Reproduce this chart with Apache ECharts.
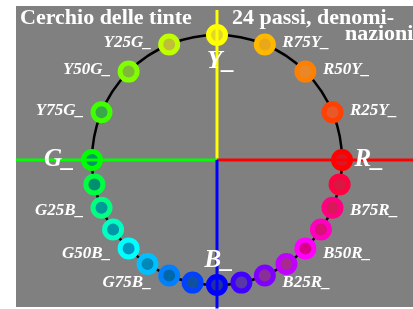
<!DOCTYPE html>
<html>
<head>
    <meta charset="utf-8">
    <script src="https://cdn.jsdelivr.net/npm/echarts@6/dist/echarts.min.js"></script>
</head>
<body style="margin:0">
    <div id="main" style="width:413px;height:309px;"></div>
    <script type="text/javascript">

// 24 hue steps, angle in degrees (0 = R, counter clockwise)
var angles = [90, 112.5, 135, 157.5, 180, 191.25, 202.5, 213.75, 225, 236.25, 247.5, 258.75,
              270, 281.25, 292.5, 303.75, 315, 326.25, 337.5, 348.75, 0, 22.5, 45, 67.5];
var names = ['Y', 'Y25G', 'Y50G', 'Y75G', 'G', '', 'G25B', '', 'G50B', '', 'G75B', '',
             'B', '', 'B25R', '', 'B50R', '', 'B75R', '', 'R', 'R25Y', 'R50Y', 'R75Y'];
var ringColors = ['#ffff00', '#c0ff00', '#80ff00', '#40ff00', '#00ff00', '#00ff40', '#00ff80', '#00ffc0',
                  '#00ffff', '#00c0ff', '#0080ff', '#0040ff', '#0000ff', '#4000ff', '#8000ff', '#c000ff',
                  '#ff00ff', '#ff00c0', '#ff0080', '#ff0040', '#ff0000', '#ff4000', '#ff8000', '#ffb800'];
var fillColors = ['#e0d828', '#c0c038', '#80b838', '#38a848', '#009860', '#009070', '#009898', '#0098a8',
                  '#0098c0', '#0088b8', '#0068a8', '#1050a0', '#2030a0', '#5838a8', '#883098', '#a82890',
                  '#d80088', '#d81078', '#d81858', '#d81840', '#d81828', '#e85828', '#e88828', '#e8a818'];
var primaries = ['Y', 'G', 'B', 'R'];

// colour axes, in circle units (radius = 1)
var yellowAxis = [[0, 0], [0, 1.2]];
var redAxis = [[0, 0], [1.568, 0]];
var greenAxis = [[-1.608, 0], [0, 0]];
var blueAxis = [[0, 0], [0, -1.2]];

var bigPos = {Y: 'bottom', G: 'left', B: 'top', R: 'right'};
var bigDist = {Y: 6, G: 9, B: 3, R: 4};
var bigShift = {Y: 4, G: 0, B: 2, R: 0};

var dots = angles.map(function (a, i) {
    return {
        value: [1, a],
        itemStyle: {color: fillColors[i], borderColor: ringColors[i], borderWidth: 5, opacity: 1}
    };
});

var labels = [];
angles.forEach(function (a, i) {
    if (!names[i]) return;
    var big = primaries.indexOf(names[i]) >= 0;
    var s = Math.sin(a * Math.PI / 180);
    var c = Math.cos(a * Math.PI / 180);
    labels.push({
        value: [1, a],
        label: {
            show: true,
            formatter: names[i] + '_',
            fontSize: big ? 25 : 17,
            position: big ? bigPos[names[i]] : (c < 0 ? 'left' : 'right'),
            distance: big ? bigDist[names[i]] : 9,
            offset: big ? [bigShift[names[i]], 0] : [0, s < 0 ? -s * 8 : -2]
        }
    });
});

function axisLine(data, color) {
    return {
        type: 'line', data: data, symbol: 'none', z: 5, silent: true,
        lineStyle: {color: color, width: 3}
    };
}

var option = {
    backgroundColor: '#ffffff',
    animation: false,
    graphic: [
        {type: 'rect', z: -10, shape: {x: 16, y: 6, width: 397, height: 301}, style: {fill: '#808080'}},
        {type: 'text', left: 20, top: 7, style: {text: 'Cerchio delle tinte', fill: '#fff',
            font: 'bold 22px "Liberation Serif"'}},
        {type: 'text', left: 232, top: 7, style: {text: '24 passi, denomi-', fill: '#fff',
            font: 'bold 22px "Liberation Serif"'}},
        {type: 'text', left: 345, top: 23, style: {text: 'nazioni', fill: '#fff',
            font: 'bold 22px "Liberation Serif"'}}
    ],
    grid: {left: 16, top: 6, right: 0, bottom: 2},
    xAxis: {type: 'value', min: -1.608, max: 1.568, show: false},
    yAxis: {type: 'value', min: -1.176, max: 1.232, show: false},
    polar: {center: [217, 160], radius: 125},
    angleAxis: {
        type: 'value', min: 0, max: 360, startAngle: 0, clockwise: false,
        axisLine: {lineStyle: {color: '#000', width: 2.5}},
        axisTick: {show: false}, axisLabel: {show: false}, splitLine: {show: false}
    },
    radiusAxis: {type: 'value', min: 0, max: 1, show: false},
    series: [
        {
            type: 'scatter', coordinateSystem: 'polar', z: 2,
            symbolSize: 17, data: dots
        },
        axisLine(yellowAxis, '#ffff00'),
        axisLine(redAxis, '#ff0000'),
        axisLine(greenAxis, '#00ff00'),
        axisLine(blueAxis, '#0000ff'),
        {
            type: 'scatter', coordinateSystem: 'polar', z: 8,
            symbolSize: 17, itemStyle: {color: 'transparent', opacity: 1},
            label: {color: '#fff', fontFamily: 'Liberation Serif', fontWeight: 'bold', fontStyle: 'italic'},
            data: labels
        }
    ]
};

var myChart = echarts.init(document.getElementById('main'));
myChart.setOption(option);

    </script>
</body>
</html>
